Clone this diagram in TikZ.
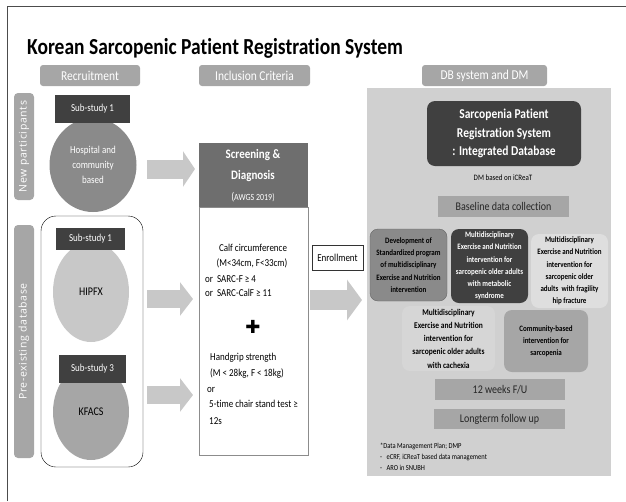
\documentclass[tikz,border=0pt]{standalone}
\usepackage{fontspec}
\setmainfont{Carlito}[FakeStretch=0.85, Ligatures=NoCommon]
\newfontfamily\sidefont{Open Sans}[LetterSpace=6]
\newfontfamily\symfont{DejaVu Sans}
\usepackage{xcolor}
\usetikzlibrary{arrows.meta, shapes.geometric}

\definecolor{hdrgray}{HTML}{A6A6A6}
\definecolor{darkgray}{HTML}{404040}
\definecolor{midgray}{HTML}{8A8A8A}
\definecolor{lightgray}{HTML}{C8C8C8}
\definecolor{panelgray}{HTML}{D0D0D0}
\definecolor{screengray}{HTML}{6E6E6E}

% size given as the width it should take; the font is narrowed, so set it taller
\newcommand{\fs}[2][1.2]{\pgfmathsetmacro\fsz{#2*1.176}\pgfmathsetmacro\fsk{#2*1.176*#1}\fontsize{\fsz}{\fsk}\selectfont}

\begin{document}
\begin{tikzpicture}[x=1pt,y=-1pt,
	hdr/.style={fill=hdrgray, rounded corners=3pt, text=white, minimum height=21pt, inner sep=0pt, font=\fs{11.5}},
	side/.style={fill=hdrgray, rounded corners=4pt, text=white, rotate=90, minimum height=20pt, inner sep=0pt, font=\sidefont\fontsize{10.5}{12}\selectfont},
	substudy/.style={fill=darkgray, text=white, inner sep=0pt, font=\fs{9}},
	blob/.style={ellipse, inner sep=0pt, align=center, font={\fs[1.43]{9}}},
	bar/.style={fill=hdrgray, text=black!85, inner sep=0pt, minimum height=21pt, font=\fs{10}},
	card/.style={rounded corners=8pt, inner sep=0pt, align=center, font={\bfseries\fs[1.48]{7}}},
	crit/.style={inner sep=0pt, font=\fs{9}},
	blockarrow/.style={draw=lightgray, line width=#1}
]
	\useasboundingbox (0,0) rectangle (626,501);
	\draw[black!70] (7,501) -- (7,6) -- (626,6);

	\node[anchor=west, inner sep=0pt, font=\bfseries\fs{19.5}] (title) at (27,48) {Korean Sarcopenic Patient Registration System};

	\node[hdr, minimum width=100pt] (recruit) at (90,75.5) {Recruitment};
	\node[hdr, minimum width=111pt] (inclusion) at (254.5,75.5) {Inclusion Criteria};
	\node[hdr, minimum width=125pt] (dbhdr) at (484.5,75.5) {DB system and DM};

	\node[side, minimum width=107pt] (newp) at (24,146.5) {New participants};
	\node[side, minimum width=233pt] (prep) at (24,341.5) {Pre-existing database};

	\node[blob, fill=midgray, text=white, minimum width=87pt, minimum height=94pt] (hosp) at (93,165) {Hospital and\\community\\based};
	\node[substudy, minimum width=75pt, minimum height=28pt] (sub1a) at (92.5,109) {Sub-study 1};

	\draw[rounded corners=15pt] (41,216) rectangle (143,467);
	\node[blob, fill=lightgray, minimum width=76pt, minimum height=100pt, font=\fs{10}] (hipfx) at (91,292) {HIPFX};
	\node[substudy, minimum width=69pt, minimum height=22pt] (sub1b) at (90.5,239) {Sub-study 1};
	\node[blob, fill=hdrgray, minimum width=76pt, minimum height=96pt, font=\fs{10}] (kfacs) at (91,412) {KFACS};
	\node[substudy, minimum width=67pt, minimum height=28pt] (sub3) at (92.5,369) {Sub-study 3};

	\node[fill=screengray, minimum width=109pt, minimum height=64pt, inner sep=0pt] (screen) at (253.5,175) {};
	\node[text=white, inner sep=0pt, font=\bfseries\fs{11}] (screen1) at (253,155) {Screening \&};
	\node[text=white, inner sep=0pt, font=\bfseries\fs{11}] (screen2) at (253,176) {Diagnosis};
	\node[text=white, inner sep=0pt, font=\fs{8}] (awgs) at (253,197) {{\fs{9.5}(}AWGS 2019)};
	\node[draw=black!45, fill=white, minimum width=109pt, minimum height=248pt, inner sep=0pt] (criteria) at (253.5,331) {};

	\node[crit] (calf) at (253,248) {Calf circumference};
	\node[crit] (calfcut) at (252,263) {(M<34cm, F<33cm)};
	\node[crit, anchor=west] (sarcf) at (205,279) {or\ \ SARC-F ≥ 4};
	\node[crit, anchor=west] (sarccalf) at (205,293) {or\ \ SARC-CalF ≥ 11};
	\node[inner sep=0pt, font=\symfont\fontsize{18}{20}\selectfont] (plus) at (253,327) {✚};
	\node[crit, anchor=west] (grip) at (210,358) {Handgrip strength};
	\node[crit, anchor=west] (gripcut) at (210,374) {(M < 28kg, F < 18kg)};
	\node[crit, anchor=west] (or) at (207,390) {or};
	\node[crit, anchor=west] (chair) at (209,404) {5-time chair stand test ≥};
	\node[crit, anchor=west] (chairs) at (209,421) {12s};

	\node[draw=black!80, fill=white, minimum width=51pt, minimum height=25pt, inner sep=0pt, font=\fs{9}] (enroll) at (337.5,257.5) {Enrollment};

	\node[fill=panelgray, minimum width=244pt, minimum height=388pt, inner sep=0pt] (panel) at (489,282) {};
	\node[fill=darkgray, text=white, rounded corners=8pt, minimum width=154pt, minimum height=65pt, inner sep=0pt, align=center, font={\bfseries\fs[1.38]{11.5}}] (integ) at (504,133.5)
		{Sarcopenia Patient\\Registration System\\: Integrated Database};
	\node[font=\fs{7}, inner sep=0pt] (dm) at (503,178) {DM based on iCReaT};
	\node[bar, minimum width=131pt] (baseline) at (503.5,206.5) {Baseline data collection};

	\node[card, fill=midgray, draw=black!60, minimum width=77pt, minimum height=72pt] (develop) at (408.5,265)
		{Development of\\Standardized program\\of multidisciplinary\\Exercise and Nutrition\\intervention};
	\node[card, fill=darkgray, text=white, minimum width=77pt, minimum height=74pt] (metab) at (489.5,266)
		{Multidisciplinary\\Exercise and Nutrition\\intervention for\\sarcopenic older adults\\with metabolic\\syndrome};
	\node[card, fill=lightgray!60, minimum width=77pt, minimum height=74pt] (hip) at (569.5,271)
		{Multidisciplinary\\Exercise and Nutrition\\intervention for\\sarcopenic older\\adults\ \ with fragility\\hip fracture};
	\node[card, fill=lightgray!75, minimum width=93pt, minimum height=65pt, font={\bfseries\fs[1.5]{7.5}}] (cachexia) at (448.5,338.5)
		{Multidisciplinary\\Exercise and Nutrition\\intervention for\\sarcopenic older adults\\with cachexia};
	\node[card, fill=hdrgray, minimum width=84pt, minimum height=62pt] (community) at (546,341)
		{Community-based\\intervention for\\sarcopenia};

	\node[bar, minimum width=130pt] (fu) at (500,389.5) {12 weeks F/U};
	\node[bar, minimum width=131pt, minimum height=20pt] (longterm) at (499.5,419) {Longterm follow up};

	\node[anchor=north west, align=left, inner sep=0pt, font={\fs[1.45]{6.5}}] (dmp) at (380,443)
		{*Data Management Plan; DMP\\-\ \ \ eCRF, iCReaT based data management\\-\ \ \ ARO in SNUBH};

	\coordinate (a1s) at (147,169);
	\coordinate (a1e) at (195,169);
	\coordinate (a2s) at (147,299);
	\coordinate (a2e) at (193,299);
	\coordinate (a3s) at (147,395);
	\coordinate (a3e) at (193,395);
	\coordinate (a4s) at (310,300);
	\coordinate (a4e) at (362,300);
	\foreach \s/\e/\w/\h/\l in {a1s/a1e/19/35/12, a2s/a2e/18/33/13, a3s/a3e/18/33/13, a4s/a4e/20/40/15}{
		\draw[blockarrow=\w pt, -{Triangle[length=\l pt, width=\h pt]}] (\s) -- (\e);
	}
\end{tikzpicture}
\end{document}
